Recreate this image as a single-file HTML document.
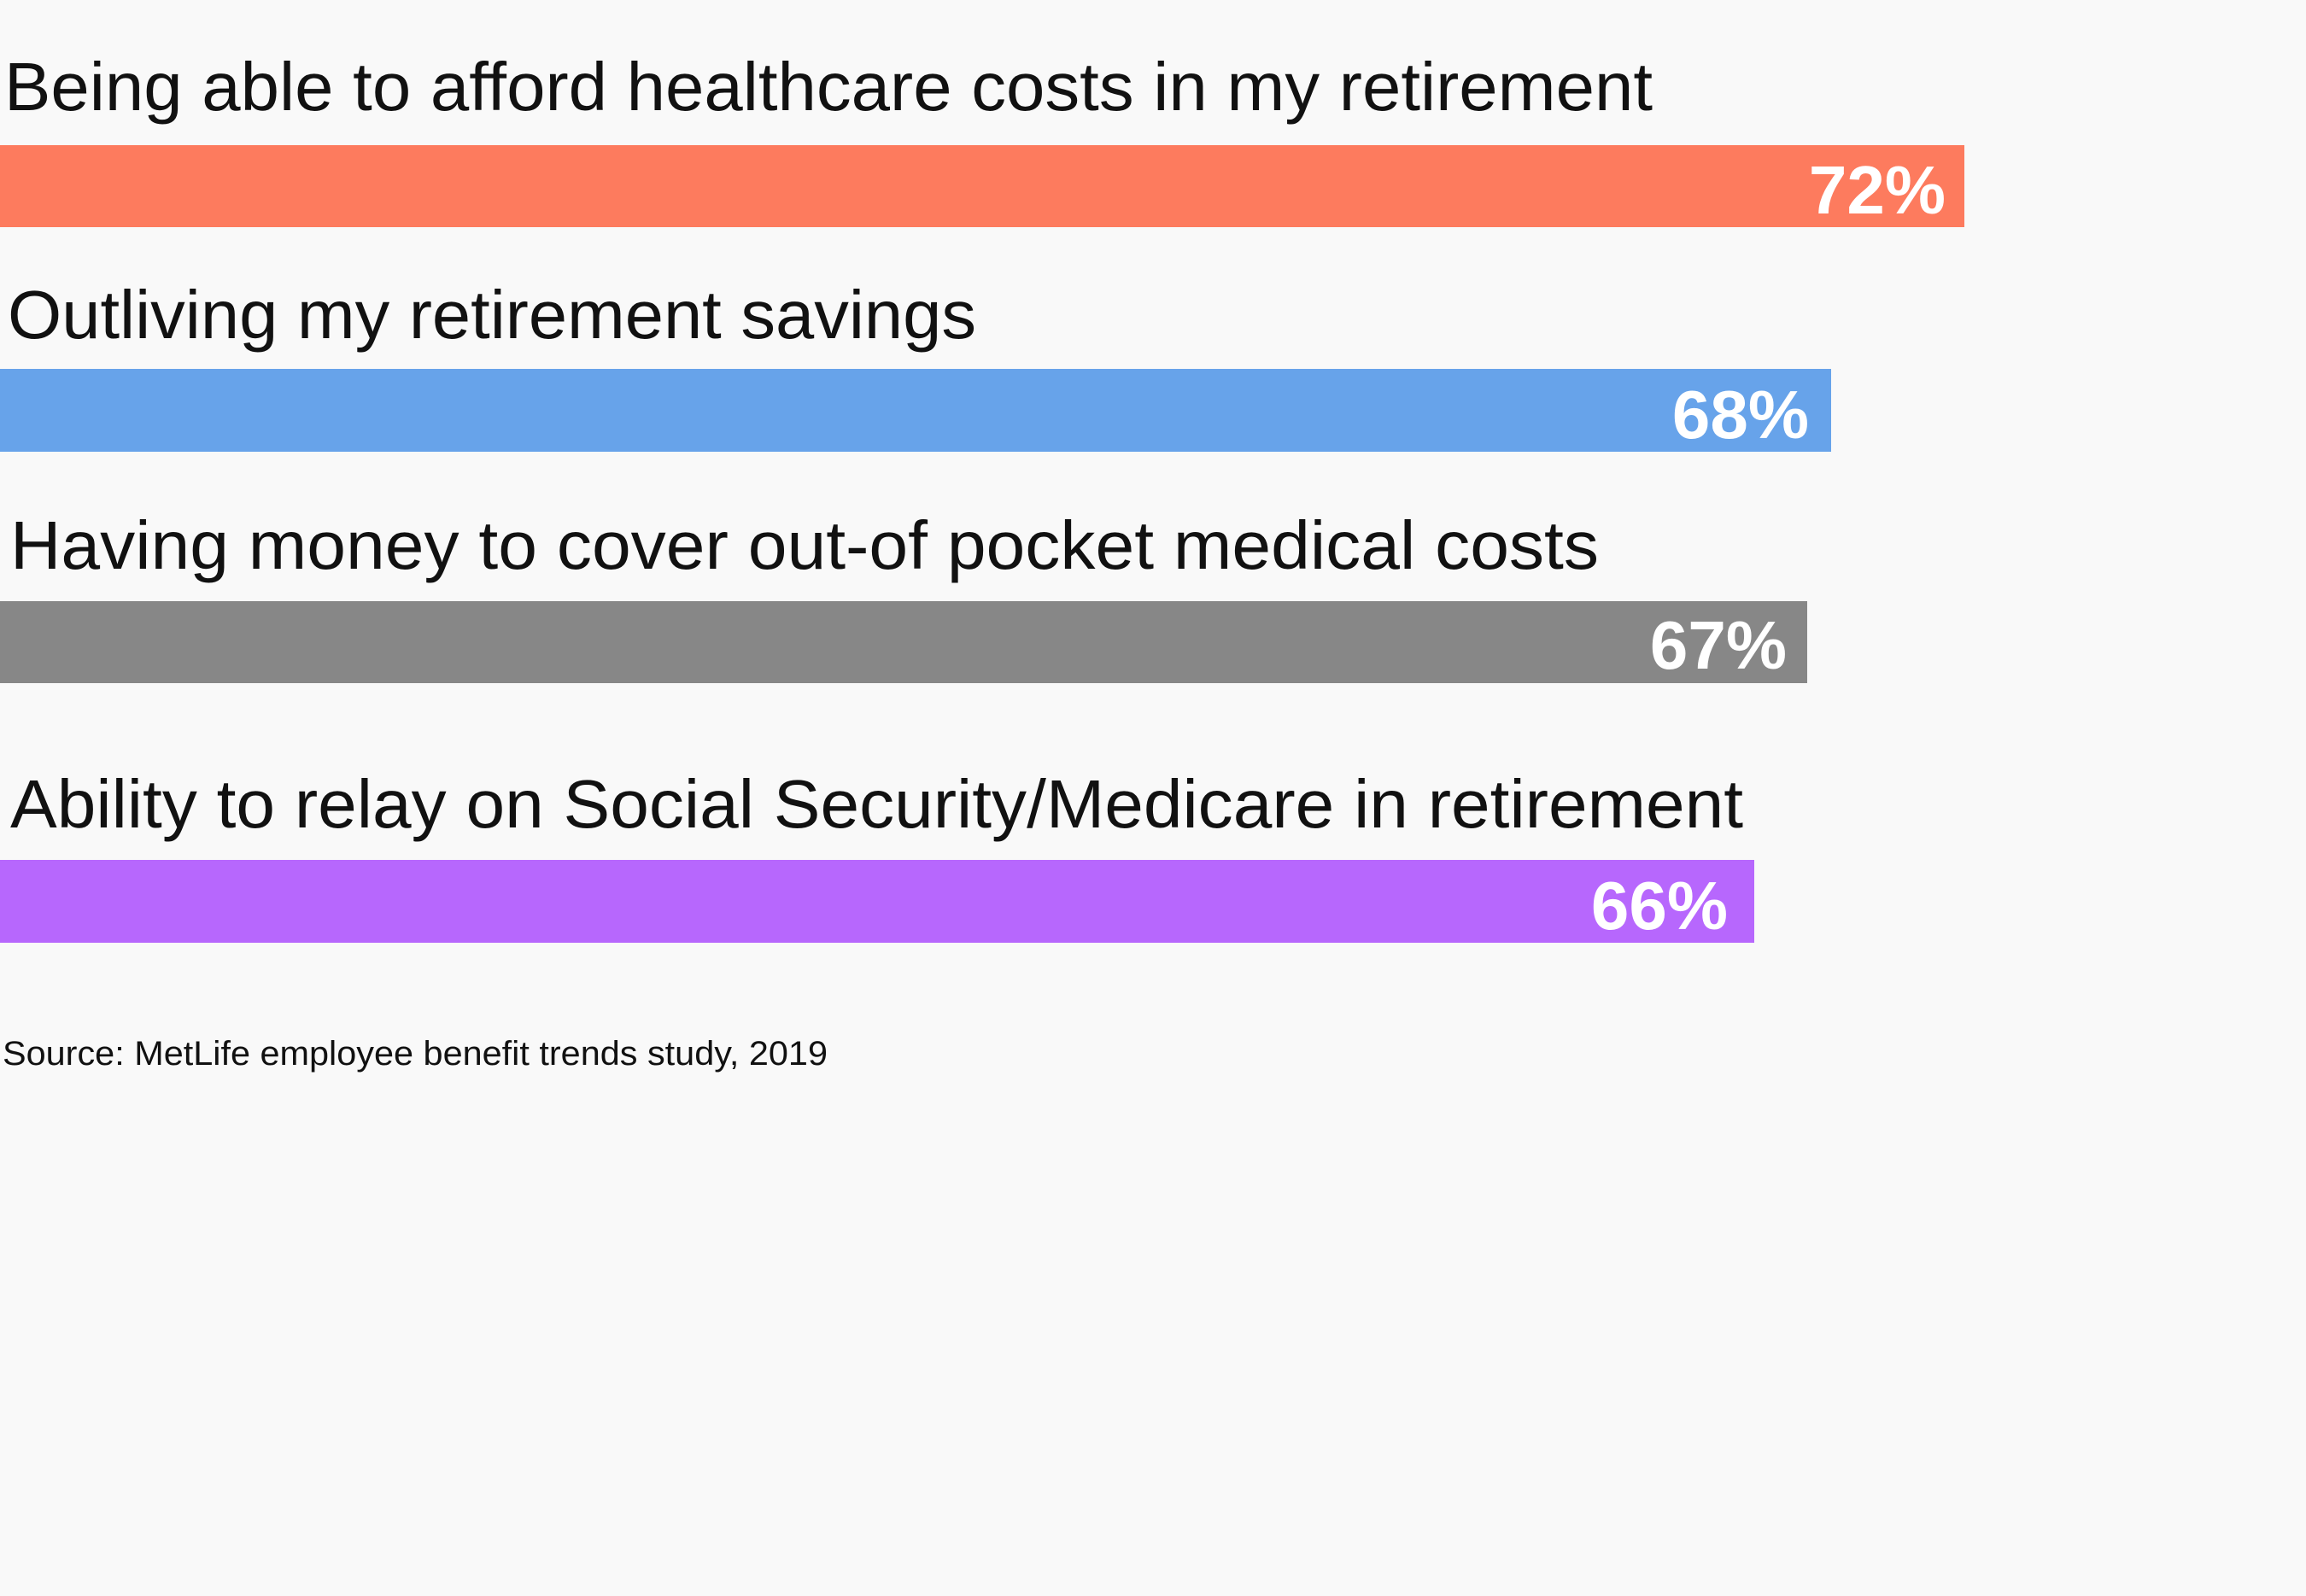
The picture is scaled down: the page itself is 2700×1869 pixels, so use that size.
<!DOCTYPE html>
<html><head><meta charset="utf-8"><style>
html,body{margin:0;padding:0;background:#f9f9f9;}
svg{display:block;}
.l{font-family:"Liberation Sans",sans-serif;font-size:80px;fill:#111;}
.p{font-family:"Liberation Sans",sans-serif;font-size:80px;font-weight:bold;fill:#fff;}
.s{font-family:"Liberation Sans",sans-serif;font-size:40px;fill:#111;}
</style></head><body>
<svg width="2700" height="1869" viewBox="0 0 2700 1869" xmlns="http://www.w3.org/2000/svg">
<rect width="2700" height="1869" fill="#f9f9f9"/>
<text class="l" x="5" y="129" textLength="1930" lengthAdjust="spacingAndGlyphs">Being able to afford healthcare costs in my retirement</text>
<rect x="0" y="170" width="2300" height="96" fill="#fd7b5e"/>
<text class="p" x="2278" y="250" text-anchor="end">72%</text>

<text class="l" x="9" y="396" textLength="1134" lengthAdjust="spacingAndGlyphs">Outliving my retirement savings</text>
<rect x="0" y="432" width="2144" height="97" fill="#67a3ea"/>
<text class="p" x="2118" y="513" text-anchor="end">68%</text>

<text class="l" x="12" y="666" textLength="1860" lengthAdjust="spacingAndGlyphs">Having money to cover out-of pocket medical costs</text>
<rect x="0" y="704" width="2116" height="96" fill="#878787"/>
<text class="p" x="2092" y="783" text-anchor="end">67%</text>

<text class="l" x="12" y="969" textLength="2029" lengthAdjust="spacingAndGlyphs">Ability to relay on Social Security/Medicare in retirement</text>
<rect x="0" y="1007" width="2054" height="97" fill="#b767fd"/>
<text class="p" x="2023" y="1088" text-anchor="end">66%</text>

<text class="s" x="3" y="1247" textLength="966" lengthAdjust="spacingAndGlyphs">Source: MetLife employee benefit trends study, 2019</text>
</svg>
</body></html>
